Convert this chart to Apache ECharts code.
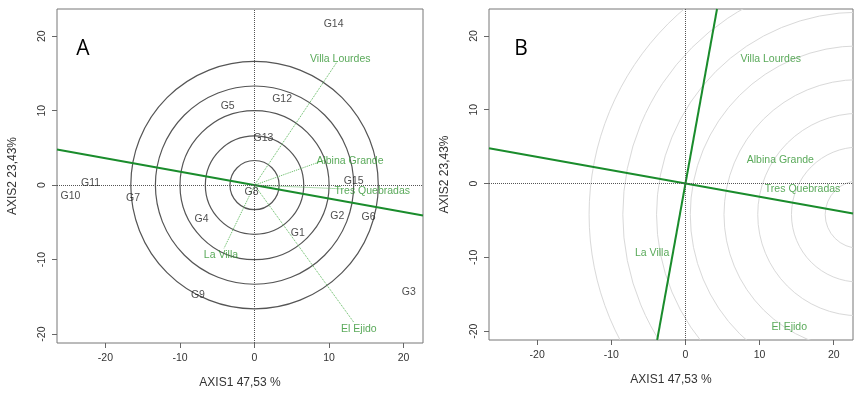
<!DOCTYPE html>
<html>
<head>
<meta charset="utf-8">
<script src="https://cdn.jsdelivr.net/npm/echarts@6/dist/echarts.min.js"></script>
<style>
  html, body { margin: 0; padding: 0; background: #fff; }
  #main { width: 863px; height: 399px; }
</style>
</head>
<body>
<div id="main"></div>
<script>
// axis ranges and ticks (same for both panels)
const xRange = [-26.5, 22.6];
const yRange = [-21.2, 23.65];
const tickValues = [-20, -10, 0, 10, 20];

// genotypes (panel A)
const genoNames = ['G1', 'G2', 'G3', 'G4', 'G5', 'G6', 'G7', 'G8', 'G9', 'G10', 'G11', 'G12', 'G13', 'G14', 'G15'];
const genoX = [5.8, 11.1, 20.7, -7.1, -3.6, 15.3, -16.3, -0.4, -7.6, -24.7, -22.0, 3.7, 1.2, 10.6, 13.3];
const genoY = [-6.5, -4.2, -14.3, -4.5, 10.6, -4.3, -1.7, -0.9, -14.8, -1.5, 0.3, 11.6, 6.3, 21.6, 0.5];

// environments: vector ends and label positions
const envNames = ['Villa Lourdes', 'Albina Grande', 'Tres Quebradas', 'La Villa', 'El Ejido'];
const envEndX = [11.1, 9.5, 11.7, -4.1, 13.3];
const envEndY = [16.6, 3.4, -0.5, -8.5, -18.4];
const envLabX = [11.5, 12.8, 15.8, -4.5, 14.0];
const envLabY = [16.9, 3.2, -0.8, -9.4, -19.4];

// average environment axis slope
const aeaSlope = -0.18;

// concentric circles
const circleCenterA = [0, 0];
const circleRadiiA = [3.3, 6.6, 10.0, 13.3, 16.6];
const circleCenterB = [23.4, -4.2];
const circleRadiiB = [4.55, 9.1, 13.65, 18.2, 22.75, 27.3, 31.85, 36.4];

const font = 'Liberation Sans, Arial, sans-serif';
const green = '#1a8c2c';
const greenText = '#2f932f';

function makeX(idx) {
  return {
    gridIndex: idx, type: 'value', min: xRange[0], max: xRange[1],
    axisLine: {show: false, onZero: false},
    splitLine: {show: false},
    axisTick: {customValues: tickValues, length: 5, lineStyle: {color: '#666'}},
    axisLabel: {customValues: tickValues, margin: 10, color: '#333', fontSize: 10.5, fontFamily: font},
    name: 'AXIS1 47,53 %', nameLocation: 'middle', nameGap: 34,
    nameTextStyle: {color: '#333', fontSize: 12, fontFamily: font},
  };
}

function makeY(idx) {
  return {
    gridIndex: idx, type: 'value', min: yRange[0], max: yRange[1],
    axisLine: {show: false, onZero: false},
    splitLine: {show: false},
    axisTick: {customValues: tickValues, length: 5, lineStyle: {color: '#666'}},
    axisLabel: {customValues: tickValues, rotate: 90, margin: 9, color: '#333', fontSize: 10.5, fontFamily: font},
    name: 'AXIS2 23,43%', nameLocation: 'middle', nameGap: 38,
    nameTextStyle: {color: '#333', fontSize: 12, fontFamily: font},
  };
}

function circleSeries(idx, center, radii, color, width) {
  return {
    type: 'custom', xAxisIndex: idx, yAxisIndex: idx, clip: true, silent: true, z: 1,
    encode: {x: 0, y: 1},
    data: radii.map(r => [center[0], center[1], r]),
    renderItem: (params, api) => {
      const c = api.coord([api.value(0), api.value(1)]);
      const rr = api.size([api.value(2), 0])[0];
      const cs = params.coordSys;
      return {
        type: 'circle',
        shape: {cx: c[0], cy: c[1], r: rr},
        style: {fill: 'none', stroke: color, lineWidth: width},
        clipPath: {type: 'rect', shape: {x: cs.x, y: cs.y, width: cs.width, height: cs.height}},
      };
    },
  };
}

function zeroLines(idx) {
  return {
    type: 'line', xAxisIndex: idx, yAxisIndex: idx, data: [], silent: true,
    markLine: {
      silent: true, symbol: ['none', 'none'], label: {show: false},
      lineStyle: {color: '#555', type: 'dotted', width: 1},
      data: [{xAxis: 0}, {yAxis: 0}],
    },
  };
}

function aeaSeries(idx) {
  return {
    type: 'line', xAxisIndex: idx, yAxisIndex: idx, symbol: 'none', silent: true, z: 3,
    lineStyle: {color: green, width: 2},
    data: [[xRange[0], aeaSlope * xRange[0]], [xRange[1], aeaSlope * xRange[1]]],
  };
}

function labelSeries(idx, names, xs, ys, color) {
  return {
    type: 'scatter', xAxisIndex: idx, yAxisIndex: idx, symbolSize: 1, silent: true, z: 5,
    itemStyle: {color: 'rgba(0,0,0,0)'},
    label: {show: true, position: 'inside', formatter: '{b}', color: color, fontSize: 10.5, fontFamily: font},
    data: names.map((n, i) => ({name: n, value: [xs[i], ys[i]]})),
  };
}

const chart = echarts.init(document.getElementById('main'));
chart.setOption({
  animation: false,
  backgroundColor: '#fff',
  grid: [
    {left: 57, top: 9, width: 366, height: 334, show: true, borderColor: '#777', borderWidth: 1},
    {left: 489, top: 9, width: 364, height: 331, show: true, borderColor: '#777', borderWidth: 1},
  ],
  xAxis: [makeX(0), makeX(1)],
  yAxis: [makeY(0), makeY(1)],
  graphic: [
    {type: 'text', x: 83, y: 49, style: {text: 'A', fontSize: 21, fontFamily: 'Open Sans, sans-serif', fill: '#000', align: 'center', verticalAlign: 'middle'}},
    {type: 'text', x: 521, y: 49, style: {text: 'B', fontSize: 21, fontFamily: 'Open Sans, sans-serif', fill: '#000', align: 'center', verticalAlign: 'middle'}},
  ],
  series: [
    // panel A
    circleSeries(0, circleCenterA, circleRadiiA, '#555', 1.2),
    zeroLines(0),
    {
      type: 'lines', coordinateSystem: 'cartesian2d', xAxisIndex: 0, yAxisIndex: 0, silent: true, z: 2,
      lineStyle: {color: '#5db85d', type: 'dotted', width: 1, opacity: 1},
      data: envNames.map((n, i) => ({coords: [[0, 0], [envEndX[i], envEndY[i]]]})),
    },
    aeaSeries(0),
    labelSeries(0, genoNames, genoX, genoY, '#222'),
    labelSeries(0, envNames, envLabX, envLabY, greenText),
    // panel B
    circleSeries(1, circleCenterB, circleRadiiB, '#d9d9d9', 1),
    zeroLines(1),
    aeaSeries(1),
    {
      type: 'line', xAxisIndex: 1, yAxisIndex: 1, symbol: 'none', silent: true, z: 3,
      lineStyle: {color: green, width: 2},
      data: [[-aeaSlope * yRange[0], yRange[0]], [-aeaSlope * yRange[1], yRange[1]]],
    },
    labelSeries(1, envNames, envLabX, envLabY, greenText),
  ],
});
</script>
</body>
</html>
